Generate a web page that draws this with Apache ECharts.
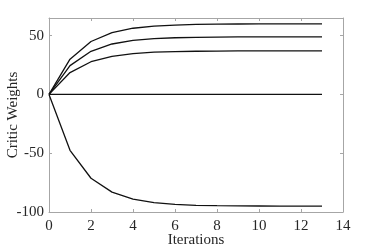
<!DOCTYPE html>
<html>
<head>
<meta charset="utf-8">
<script src="https://cdn.jsdelivr.net/npm/echarts@6/dist/echarts.min.js"></script>
<style>html,body{margin:0;padding:0;background:#fff}#c{width:379px;height:250px}</style>
</head>
<body>
<div id="c"></div>
<script>
var iterations = [0,1,2,3,4,5,6,7,8,9,10,11,12,13];
var weight1 = [0, 30, 45, 52.5, 56.3, 58.1, 59, 59.5, 59.8, 59.9, 60, 60, 60, 60];
var weight2 = [0, 24.5, 36.7, 42.9, 45.9, 47.5, 48.2, 48.6, 48.8, 48.9, 49, 49, 49, 49];
var weight3 = [0, 18.6, 27.8, 32.4, 34.7, 35.9, 36.4, 36.7, 36.9, 37, 37, 37, 37, 37];
var weight4 = [0, 0, 0, 0, 0, 0, 0, 0, 0, 0, 0, 0, 0, 0];
var weight5 = [0, -47.5, -71.3, -83.1, -89, -92, -93.5, -94.3, -94.6, -94.8, -94.9, -95, -95, -95];
var xTicks = [0,2,4,6,8,10,12,14];
var yTicks = [-100,-50,0,50];

function pairs(v){ return iterations.map(function(x,i){ return [x, v[i]]; }); }
var font = "'Liberation Serif', 'Times New Roman', 'DejaVu Serif', serif";
var axisCol = '#a6a6a6';
var txtCol = '#262626';
var chart = echarts.init(document.getElementById('c'), null, {renderer:'canvas'});
var series = [weight1, weight2, weight3, weight4, weight5].map(function(v){
  return {type:'line', data:pairs(v), symbol:'none', lineStyle:{color:'#111', width:1.3}, animation:false};
});
chart.setOption({
  animation:false,
  grid:{left:49, right:36, top:18, bottom:38, containLabel:false, outerBoundsMode:'none'},
  xAxis:[{
    type:'value', min:0, max:14, interval:2, position:'bottom',
    axisLine:{onZero:false, lineStyle:{color:axisCol, width:1}},
    axisTick:{inside:true, length:3, lineStyle:{color:axisCol}},
    axisLabel:{color:txtCol, fontFamily:font, fontSize:15, margin:7},
    splitLine:{show:false},
    name:'Iterations', nameLocation:'middle', nameGap:21, nameMoveOverlap:false,
    nameTextStyle:{color:txtCol, fontFamily:font, fontSize:15}
  },{
    type:'value', min:0, max:14, interval:2, position:'top',
    axisLine:{onZero:false, lineStyle:{color:axisCol, width:1}},
    axisTick:{inside:true, length:3, lineStyle:{color:axisCol}},
    axisLabel:{show:false}, splitLine:{show:false}
  }],
  yAxis:[{
    type:'value', min:-100, max:65, interval:50, position:'left',
    axisLine:{show:true, onZero:false, lineStyle:{color:axisCol, width:1}},
    axisTick:{show:true, inside:true, length:3, lineStyle:{color:axisCol}},
    axisLabel:{color:txtCol, fontFamily:font, fontSize:15, margin:5, showMaxLabel:false,
      formatter:function(v){ return yTicks.indexOf(v) >= 0 ? String(v) : ''; }},
    splitLine:{show:false},
    name:'Critic Weights', nameLocation:'middle', nameGap:28, nameMoveOverlap:false,
    nameTextStyle:{color:txtCol, fontFamily:font, fontSize:15}
  },{
    type:'value', min:-100, max:65, interval:50, position:'right',
    axisLine:{show:true, onZero:false, lineStyle:{color:axisCol, width:1}},
    axisTick:{show:true, inside:true, length:3, lineStyle:{color:axisCol}},
    axisLabel:{show:false}, splitLine:{show:false}
  }],
  series: series
});
</script>
</body>
</html>
